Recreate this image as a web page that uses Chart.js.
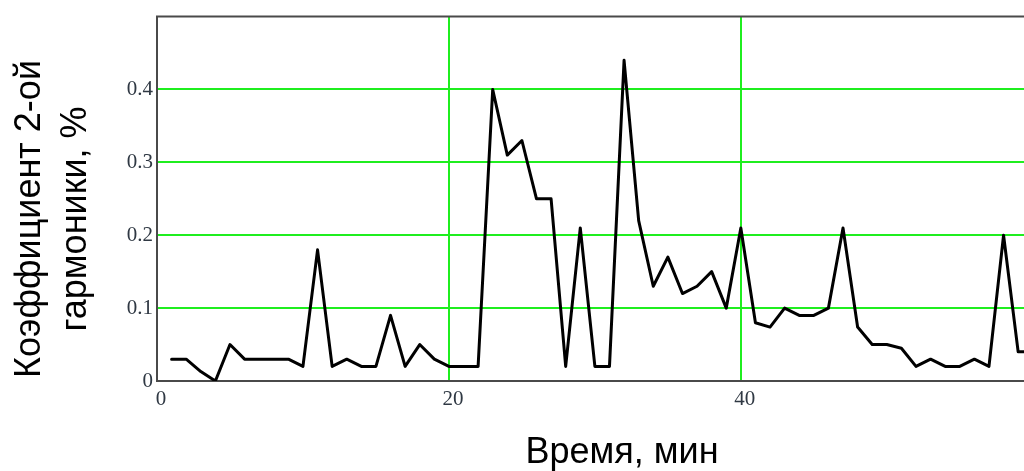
<!DOCTYPE html>
<html>
<head>
<meta charset="utf-8">
<script src="https://cdn.jsdelivr.net/npm/chart.js@4/dist/chart.umd.min.js"></script>
<style>
  html, body { margin: 0; padding: 0; background: #ffffff; overflow: hidden; }
  canvas { display: block; }
</style>
</head>
<body>
<canvas id="chart" width="1024" height="471"></canvas>
<script>
// Time of measurement, minutes
const minutes = [
  1, 2, 3, 4, 5, 6, 7, 8, 9, 10,
  11, 12, 13, 14, 15, 16, 17, 18, 19, 20,
  21, 22, 23, 24, 25, 26, 27, 28, 29, 30,
  31, 32, 33, 34, 35, 36, 37, 38, 39, 40,
  41, 42, 43, 44, 45, 46, 47, 48, 49, 50,
  51, 52, 53, 54, 55, 56, 57, 58, 59, 60
];

// Second-harmonic coefficient, %
const harmonic2 = [
  0.03, 0.03, 0.013, 0.0, 0.05, 0.03, 0.03, 0.03, 0.03, 0.02,
  0.18, 0.02, 0.03, 0.02, 0.02, 0.09, 0.02, 0.05, 0.03, 0.02,
  0.02, 0.02, 0.40, 0.31, 0.33, 0.25, 0.25, 0.02, 0.21, 0.02,
  0.02, 0.44, 0.22, 0.13, 0.17, 0.12, 0.13, 0.15, 0.10, 0.21,
  0.08, 0.074, 0.10, 0.09, 0.09, 0.10, 0.21, 0.074, 0.05, 0.05,
  0.045, 0.02, 0.03, 0.02, 0.02, 0.03, 0.02, 0.20, 0.04, 0.04
];

// Axis ticks
const xTicks = [0, 20, 40];
const yTicks = [0, 0.1, 0.2, 0.3, 0.4];

// Axis titles
const xTitle = 'Время, мин';
const yTitle = ['Коэффициент 2-ой', 'гармоники, %'];

const GRID = '#1fee1f';
const FRAME = '#4a4a4a';
const TICK_COLOR = '#2f3843';

// Frame line along the top edge of the plot and the two axis titles
const decorations = {
  id: 'decorations',
  afterDatasetsDraw(chart) {
    const { ctx, chartArea } = chart;
    ctx.save();
    ctx.strokeStyle = FRAME;
    ctx.lineWidth = 2;
    ctx.beginPath();
    ctx.moveTo(chartArea.left - 1, chartArea.top);
    ctx.lineTo(chartArea.right, chartArea.top);
    ctx.stroke();
    ctx.restore();
  },
  afterDraw(chart) {
    const { ctx } = chart;
    ctx.save();
    ctx.fillStyle = '#000000';
    ctx.font = '36px "Liberation Sans", Arial, sans-serif';
    ctx.textAlign = 'center';
    ctx.textBaseline = 'alphabetic';
    ctx.fillText(xTitle, 622, 463);

    ctx.translate(0, 219);
    ctx.rotate(-Math.PI / 2);
    ctx.fillText(yTitle[0], 0, 40);
    ctx.fillText(yTitle[1], 0, 86);
    ctx.restore();
  }
};

new Chart(document.getElementById('chart'), {
  type: 'line',
  data: {
    datasets: [{
      data: minutes.map((m, i) => ({ x: m, y: harmonic2[i] })),
      borderColor: '#000000',
      borderWidth: 3,
      pointRadius: 0,
      tension: 0,
      borderJoinStyle: 'round',
      borderCapStyle: 'round',
      fill: false
    }]
  },
  options: {
    responsive: false,
    animation: false,
    devicePixelRatio: 1,
    layout: { padding: { top: 13, right: 0, bottom: 0, left: 0 } },
    plugins: {
      legend: { display: false },
      tooltip: { enabled: false }
    },
    scales: {
      x: {
        type: 'linear',
        min: 0,
        max: 59.4,
        afterBuildTicks: (scale) => { scale.ticks = xTicks.map(v => ({ value: v })); },
        afterFit: (scale) => { scale.height = 90; },
        border: { display: true, color: FRAME, width: 2 },
        grid: {
          drawTicks: false,
          lineWidth: 2,
          color: (c) => (c.tick && c.tick.value === 0 ? 'rgba(0,0,0,0)' : GRID)
        },
        ticks: {
          padding: 6,
          labelOffset: 4,
          maxRotation: 0,
          color: TICK_COLOR,
          font: { family: '"Liberation Serif", "Times New Roman", serif', size: 21 },
          callback: (v) => String(v)
        }
      },
      y: {
        type: 'linear',
        min: 0,
        max: 0.5,
        afterBuildTicks: (scale) => { scale.ticks = yTicks.map(v => ({ value: v })); },
        afterFit: (scale) => { scale.width = 157; },
        border: { display: true, color: FRAME, width: 2 },
        grid: {
          drawTicks: false,
          lineWidth: 2,
          color: (c) => (c.tick && c.tick.value === 0 ? 'rgba(0,0,0,0)' : GRID)
        },
        ticks: {
          padding: 4,
          color: TICK_COLOR,
          font: { family: '"Liberation Serif", "Times New Roman", serif', size: 21 },
          callback: (v) => String(v)
        }
      }
    }
  },
  plugins: [decorations]
});
</script>
</body>
</html>
